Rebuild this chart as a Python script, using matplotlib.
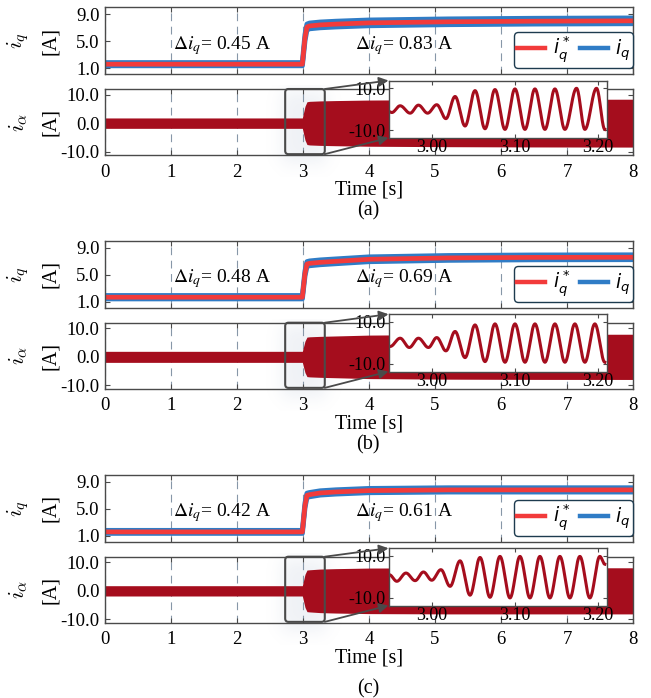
import numpy as np
import matplotlib
matplotlib.use('Agg')
import matplotlib.pyplot as plt
from matplotlib.patches import FancyBboxPatch, ConnectionPatch

plt.rcParams['font.family'] = 'Liberation Serif'
plt.rcParams['mathtext.fontset'] = 'stix'
plt.rcParams['font.size'] = 12

# breakpoints of the q-axis current traces [s]
t_iq = [0.0, 2.99, 3.03, 3.06, 3.10, 3.26, 3.50, 4.00, 5.20, 6.50, 8.00]

# reference q-axis current i_q* for the three cases [A]
iq_ref_a = [1.60, 1.60, 5.50, 7.10, 7.25, 7.40, 7.52, 7.70, 7.86, 7.95, 8.00]
iq_ref_b = [1.70, 1.70, 5.20, 6.60, 6.70, 6.85, 7.00, 7.30, 7.50, 7.58, 7.60]
iq_ref_c = [1.60, 1.60, 5.50, 7.00, 7.10, 7.35, 7.50, 7.70, 7.80, 7.80, 7.80]

# peak-to-peak ripple of measured i_q before / after the load step [A]
ripple_a = [0.45, 0.83]
ripple_b = [0.48, 0.69]
ripple_c = [0.42, 0.61]

# zoomed i_alpha around the step: times of the extrema [s] and values [A]
ext_t_a = [2.949, 2.952, 2.962, 2.974, 2.984, 2.995, 3.006, 3.017, 3.028, 3.040,
           3.052, 3.064, 3.076, 3.088, 3.100, 3.112, 3.124, 3.136, 3.148, 3.160,
           3.174, 3.184, 3.198, 3.208]
ext_v_a = [-1.2, -1.6, 1.6, -1.9, 1.9, -1.9, 2.1, -4.5, 6.0, -8.0,
           8.8, -9.3, 9.3, -9.6, 9.6, -9.6, 9.6, -9.6, 9.6, -9.6,
           9.9, -9.6, 9.9, -9.6]
ext_t_b = [2.950, 2.962, 2.973, 2.984, 2.996, 3.006, 3.017, 3.028, 3.040, 3.052,
           3.064, 3.076, 3.088, 3.100, 3.112, 3.124, 3.136, 3.148, 3.160, 3.172,
           3.184, 3.196, 3.208]
ext_v_b = [-1.7, 2.2, -2.2, 2.2, -2.2, 2.5, -3.8, 5.4, -7.0, 8.5,
           -8.9, 9.0, -9.2, 9.0, -9.2, 9.0, -9.2, 9.0, -9.2, 9.0,
           -9.2, 9.0, -9.2]
ext_t_c = [2.949, 2.958, 2.969, 2.980, 2.990, 3.000, 3.011, 3.022, 3.034, 3.046,
           3.058, 3.070, 3.082, 3.094, 3.106, 3.118, 3.130, 3.142, 3.154, 3.166,
           3.178, 3.190, 3.202, 3.208]
ext_v_c = [1.0, -2.1, 1.8, -1.8, 2.3, -1.6, 3.4, -4.5, 7.6, -8.7,
           9.2, -9.7, 9.7, -10.0, 9.7, -10.0, 9.7, -10.0, 9.7, -10.0,
           9.7, -10.0, 9.7, 6.0]

panel_tags = ['(a)', '(b)', '(c)']
iq_refs = [iq_ref_a, iq_ref_b, iq_ref_c]
ripples = [ripple_a, ripple_b, ripple_c]
ext_ts = [ext_t_a, ext_t_b, ext_t_c]
ext_vs = [ext_v_a, ext_v_b, ext_v_c]

t_step = 3.0
zoom_win = (2.73, 3.33)
inset_xlim = (2.948, 3.21)

c_ref = '#f23b3b'
c_meas = '#2f7cc6'
c_ia = '#a50d1d'
c_axis = '#4a4a4a'
c_grid = '#8797a8'


def smooth_through(tt, vv, n=30):
    # half-cosine segments between successive extrema
    xs, ys = [], []
    for i in range(len(tt) - 1):
        s = np.linspace(0, 1, n, endpoint=False)
        xs.append(tt[i] + (tt[i + 1] - tt[i]) * s)
        ys.append(vv[i] + (vv[i + 1] - vv[i]) * (1 - np.cos(np.pi * s)) / 2)
    xs.append([tt[-1]])
    ys.append([vv[-1]])
    return np.concatenate(xs), np.concatenate(ys)


def soft_edge(u, lo, hi, w):
    return 1 / (1 + np.exp(-(u - lo) / w)) * 1 / (1 + np.exp((u - hi) / w))


W, H = 651, 698
fig = plt.figure(figsize=(W / 100, H / 100), dpi=100)


def px_box(l, t, r, b):
    return [l / W, 1 - b / H, (r - l) / W, (b - t) / H]


def style_axes(ax):
    for sp in ax.spines.values():
        sp.set_color(c_axis)
        sp.set_linewidth(1.0)
    ax.tick_params(direction='in', top=True, right=True, length=3.5,
                   width=0.8, color=c_axis, labelsize=13.5)
    ax.set_axisbelow(True)


offsets = [0.0, 233.7, 467.7]
tag_y = [211, 445, 689]

for k in range(3):
    y0 = offsets[k]
    t = np.array(t_iq)
    iq = np.array(iq_refs[k])
    half = np.where(t < t_step, ripples[k][0], ripples[k][1]) / 2

    # ---- q-axis current ----
    ax1 = fig.add_axes(px_box(105, y0 + 7.3, 633, y0 + 74))
    style_axes(ax1)
    ax1.fill_between(t, iq - half, iq + half, color=c_meas, lw=0)
    ax1.plot(t, iq + half, color=c_meas, lw=3.6)
    ax1.plot(t, iq - half, color=c_meas, lw=3.6)
    ax1.plot(t, iq, color=c_ref, lw=3.4)
    ax1.set_xlim(0, 8)
    ax1.set_ylim(0.15, 10.0)
    ax1.set_xticks(range(9))
    ax1.set_xticklabels([])
    ax1.set_yticks([1, 5, 9])
    ax1.set_yticklabels(['%.1f' % v for v in [1, 5, 9]])
    ax1.tick_params(axis='y', pad=4)
    ax1.grid(axis='x', color=c_grid, lw=0.8, linestyle=(0, (7, 5)))

    ax1.text(1.03, 0.43, r'$\Delta i_q$= %.2f A' % ripples[k][0],
             transform=ax1.get_xaxis_transform(), fontsize=14, va='center')
    ax1.text(3.79, 0.43, r'$\Delta i_q$= %.2f A' % ripples[k][1],
             transform=ax1.get_xaxis_transform(), fontsize=14, va='center')

    h1, = ax1.plot([], [], color=c_ref, lw=3.2)
    h2, = ax1.plot([], [], color=c_meas, lw=3.2)
    leg = ax1.legend([h1, h2], [r'$i_q^*$', r'$i_q$'], ncol=2,
                     loc='lower right', bbox_to_anchor=(1.0, 0.09),
                     borderaxespad=0, fontsize=13.5, handlelength=1.5,
                     handletextpad=0.4, columnspacing=0.5,
                     borderpad=0.15, fancybox=True, framealpha=1)
    leg.get_frame().set_edgecolor('#1d3b4f')
    leg.get_frame().set_linewidth(1.0)
    for txt in leg.get_texts():
        txt.set_math_fontfamily('dejavusans')

    # ---- alpha-axis current ----
    ax2 = fig.add_axes(px_box(105, y0 + 89, 633, y0 + 155.3))
    style_axes(ax2)
    env = iq + half
    ax2.fill_between(t, -env, env, color=c_ia, lw=0, zorder=2)
    ax2.set_xlim(0, 8)
    ax2.set_ylim(-11.3, 12.0)
    ax2.set_xticks(range(9))
    ax2.set_yticks([-10, 0, 10])
    ax2.set_yticklabels(['%.1f' % v for v in [-10, 0, 10]])
    ax2.tick_params(axis='y', pad=4)
    ax2.tick_params(axis='x', pad=6)
    ax2.grid(axis='x', color=c_grid, lw=0.8, linestyle=(0, (7, 5)))

    # soft shading around the zoom window
    ylo, yhi = ax2.get_ylim()
    gx = np.linspace(2.35, 3.75, 140)
    gy = np.linspace(-19.0, 13.0, 120)
    GX, GY = np.meshgrid(gx, gy)
    haze = soft_edge(GX, zoom_win[0] - 0.05, zoom_win[1] + 0.02, 0.07) * \
        soft_edge(GY, ylo - 3.0, yhi - 1.0, 1.8)
    rgba = np.zeros(GX.shape + (4,))
    rgba[..., 0], rgba[..., 1], rgba[..., 2] = 0.55, 0.62, 0.74
    rgba[..., 3] = 0.14 * haze
    ax2.imshow(rgba, extent=(gx[0], gx[-1], gy[0], gy[-1]), origin='lower',
               aspect='auto', zorder=0.3, clip_on=False, interpolation='bilinear')
    ax2.set_xlim(0, 8)
    ax2.set_ylim(ylo, yhi)

    # zoom window marker
    rect = FancyBboxPatch((zoom_win[0], ylo + 0.4), zoom_win[1] - zoom_win[0],
                          yhi - ylo - 0.4,
                          boxstyle='round,pad=0,rounding_size=0.05',
                          mutation_aspect=24, fc='none', ec=c_axis, lw=1.5,
                          clip_on=False, zorder=5)
    ax2.add_patch(rect)

    # ---- inset ----
    axin = fig.add_axes(px_box(388.5, y0 + 80.5, 606.5, y0 + 137.8))
    style_axes(axin)
    axin.set_facecolor('white')
    xs, ys = smooth_through(ext_ts[k], ext_vs[k])
    axin.plot(xs, ys, color=c_ia, lw=2.2)
    axin.set_xlim(*inset_xlim)
    axin.set_ylim(-13.6, 13.6)
    axin.set_xticks([3.0, 3.1, 3.2])
    axin.set_xticklabels(['%.2f' % v for v in [3.0, 3.1, 3.2]])
    axin.set_yticks([-10, 10])
    axin.set_yticklabels(['%.1f' % v for v in [-10, 10]])
    axin.tick_params(length=3, labelsize=13)
    axin.tick_params(axis='x', pad=1)
    axin.tick_params(axis='y', pad=2)

    for ya, yb in [(yhi, 1.0), (ylo + 0.4, 0.0)]:
        con = ConnectionPatch(xyA=(zoom_win[1], ya), coordsA=ax2.transData,
                              xyB=(0.0, yb), coordsB=axin.transAxes,
                              arrowstyle='-|>', mutation_scale=14,
                              color=c_axis, lw=1.3, shrinkA=0, shrinkB=0)
        fig.add_artist(con)

    # axis labels
    ymid1 = y0 + (7.3 + 74) / 2
    ymid2 = y0 + (89 + 155.3) / 2
    for ym, sym in [(ymid1, r'$i_q$'), (ymid2, r'$i_\alpha$')]:
        fig.text(18 / W, 1 - ym / H, sym, rotation=90, ha='center',
                 va='center', fontsize=16, math_fontfamily='cm')
        fig.text(51 / W, 1 - ym / H, '[A]', rotation=90, ha='center',
                 va='center', fontsize=14.5)

    fig.text(369 / W, 1 - (y0 + 190) / H, 'Time [s]', ha='center',
             va='center', fontsize=14.5)
    fig.text(368 / W, 1 - tag_y[k] / H, panel_tags[k], ha='center',
             va='center', fontsize=14.5)

fig.savefig('out.png', dpi=100)
